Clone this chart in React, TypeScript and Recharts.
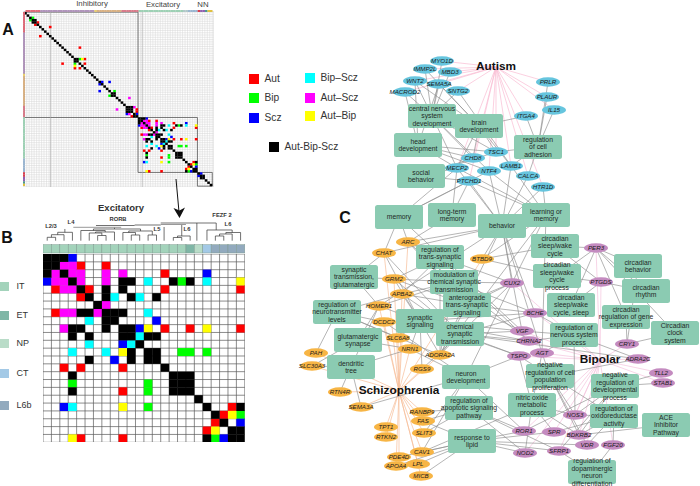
import React from 'react'
import { ScatterChart, Scatter, XAxis, YAxis, CartesianGrid, ReferenceLine, ReferenceArea } from 'recharts'

const FONT = '"Liberation Sans", Arial, sans-serif'

// overlap status per cell
const statusFill: Record<string, string> = {
  k: '#000000', r: '#ff0000', g: '#00ff00', b: '#0000ff', c: '#00ffff', m: '#ff00ff', y: '#ffff00',
}
const statusLegend = [
  { name: 'Aut', key: 'r', x: 254, y: 79 },
  { name: 'Bip', key: 'g', x: 254, y: 98 },
  { name: 'Scz', key: 'b', x: 254, y: 118 },
  { name: 'Bip\u2013Scz', key: 'c', x: 310, y: 78 },
  { name: 'Aut\u2013Scz', key: 'm', x: 310, y: 98 },
  { name: 'Aut\u2013Bip', key: 'y', x: 310, y: 116 },
  { name: 'Aut-Bip-Scz', key: 'k', x: 274, y: 147 },
]

// panel B, excitatory x excitatory
const excitatoryRows = [
  'kkkb....................',
  'kkmmr..r................',
  'kmkmm..m.m....r....b....',
  'bmmkm..m.kk.c..kgk.c...y',
  '.rmmkr.k.k....r........r',
  '....rk.kc.kc.k..........',
  '......km................',
  '.rmmkkmkkk..c...........',
  '.....c.kk....b..........',
  '..mkk..k.kkby.r..r.y...r',
  '...k.k...kkckk..........',
  '.....c...bck............',
  '...c...c.yk.kk..gg.g....',
  '.....k..b.k.kk..........',
  '..r.r....r....k.........',
  '...k...........kkk......',
  '...g........g..kkk......',
  '...k.....r..g..kkk......',
  '..................k.....',
  '..bc.....y..g......k..rk',
  '....................kryg',
  '....................rk.b',
  '...................ry.kk',
  '...yr....r.........kgbkk',
]
const excitatoryClasses = ['IT','IT','IT','IT','IT','IT','IT','IT','IT','IT','IT','IT','IT','IT','IT','IT','IT','ET','NP','CT','L6b','L6b','L6b','L6b']
const classLegend = [
  { name: 'IT', color: '#a3d3bb', y: 286 },
  { name: 'ET', color: '#7fb6a6', y: 315 },
  { name: 'NP', color: '#b9dcc8', y: 343 },
  { name: 'CT', color: '#a3c9e6', y: 373 },
  { name: 'L6b', color: '#92aabe', y: 405 },
]

// panel A, everything outside the excitatory block
const diagonalCells = [0,1,2,3,4,5,6,7,8,9,10,11,12,13,14,15,16,17,18,19,20,21,22,23,24,25,26,27,28,29,30,31,32,33,34,35,36,37,38,39,40,41,42,43,44,45,70,71,72,73,74,75]
const wholeCellsA: [number, number, string][] = [
  [2,3,'g'],[3,2,'g'],[4,5,'r'],[5,4,'r'],[3,4,'k'],[4,3,'k'],[10,6,'r'],[6,10,'r'],
  [22,15,'r'],[15,22,'r'],[20,21,'k'],[21,20,'k'],[24,20,'r'],[20,24,'r'],[22,24,'r'],[24,22,'r'],[22,20,'g'],[20,22,'g'],[20,23,'y'],[23,20,'y'],
  [31,30,'b'],[30,31,'b'],[34,30,'b'],[30,34,'b'],[36,34,'g'],[34,36,'g'],[35,36,'k'],[36,35,'k'],[42,37,'m'],[37,42,'m'],
  [41,42,'k'],[42,41,'k'],[41,43,'k'],[43,41,'k'],[42,43,'k'],[43,42,'k'],[44,41,'m'],[41,44,'b'],[42,44,'m'],[44,44,'y'],[45,43,'r'],[43,45,'r'],[44,45,'k'],[45,44,'b'],[45,42,'r'],
  [71,70,'b'],[70,71,'b'],[71,72,'k'],[72,71,'k'],
]
const stripRunsTop: [string, number][] = [['#e06a78',6],['#b094bb',22],['#e8d070',1],['#d9b183',10],['#d87b8a',7],['#9dd0b4',18],['#b0c8c8',2],['#9ab5d0',4],['#d84050',1],['#9060b0',2],['#4a9a90',1],['#e0c040',2]]
const stripRunsLeft: [string, number][] = [['#e06a78',9],['#b094bb',18],['#e8d070',1],['#d9b183',13],['#d87b8a',5],['#9dd0b4',18],['#9ab5d0',6],['#d84050',2],['#9060b0',2],['#4a9a90',1],['#e0c040',1]]

// panel B dendrogram: [left, right, top, leftBottom, rightBottom]
const dendroMerges = [
  [0.5,1.5,39.3,42.7,42.7],[1,2.5,36.7,39.3,42.7],[1.75,3.5,34.3,36.7,42.7],
  [6.5,7.5,37.5,42.7,42.7],[5.5,7,35,42.7,37.5],[6.25,8.5,34,35,42.7],[4.5,7.4,32.5,42.7,34],
  [10.5,11.5,37,42.7,42.7],[9.5,11,34.5,42.7,37],[12.5,13.5,37,42.7,42.7],[10.2,13,33,34.5,37],[6,11.6,31,32.5,33],
  [15.5,16.5,39.5,42.7,42.7],[16,17.5,38,39.5,42.7],
  [20.5,21.5,38,42.7,42.7],[21,22.5,36,38,42.7],[21.75,23.5,34.5,36,42.7],
]
const dendroLines = [
  [2.6,34.3,2.6,31],[14.4,29,14.4,42.7],[16.5,27,16.5,38],[18.3,25,18.3,42.7],
  [19.5,32,19.5,42.7],[19.5,32,22.5,32],[22.5,32,22.5,34.5],[20.6,25,20.6,32],
  [6.3,27.5,10.9,27.5],[10.9,27,14,27],[14,25,20.6,25],[8.5,29.3,8.5,31],
]
const dendroGrey = [[3.6,29.3,9.3,29.3],[14,26.5,17,26.5]]
const dendroLabels = [
  { text: 'L2/3', x: 51, y: 227 }, { text: 'L4', x: 71, y: 223 }, { text: 'RORB', x: 118, y: 220 },
  { text: 'L5', x: 157, y: 230 }, { text: 'L6', x: 187, y: 230 }, { text: 'FEZF 2', x: 222, y: 216 }, { text: 'L6', x: 228, y: 225 },
]

// panel C network
const terms = [
  { id: 'cns', lines: ['central nervous', 'system', 'development'], x: 432, y: 116 },
  { id: 'brain', lines: ['brain', 'development'], x: 479, y: 126 },
  { id: 'head', lines: ['head', 'development'], x: 418, y: 145 },
  { id: 'adhesion', lines: ['regulation', 'of cell', 'adhesion'], x: 538, y: 147 },
  { id: 'social', lines: ['social', 'behavior'], x: 421, y: 176 },
  { id: 'memory', lines: ['memory'], x: 399, y: 217 },
  { id: 'ltm', lines: ['long-term', 'memory'], x: 452, y: 215 },
  { id: 'behavior', lines: ['behavior'], x: 502, y: 226 },
  { id: 'learning', lines: ['learning or', 'memory'], x: 546, y: 215 },
  { id: 'transSyn', lines: ['regulation of', 'trans-synaptic', 'signaling'], x: 440, y: 257 },
  { id: 'circSleep', lines: ['circadian', 'sleep/wake', 'cycle'], x: 555, y: 246 },
  { id: 'circBeh', lines: ['circadian', 'behavior'], x: 638, y: 266 },
  { id: 'glutTrans', lines: ['synaptic', 'transmission,', 'glutamatergic'], x: 354, y: 277 },
  { id: 'modChem', lines: ['modulation of', 'chemical synaptic', 'transmission'], x: 454, y: 282 },
  { id: 'circProc', lines: ['circadian', 'sleep/wake', 'cycle', 'process'], x: 557, y: 276 },
  { id: 'circRhythm', lines: ['circadian', 'rhythm'], x: 646, y: 291 },
  { id: 'antero', lines: ['anterograde', 'trans-synaptic', 'signaling'], x: 467, y: 305 },
  { id: 'circCycle', lines: ['circadian', 'sleep/wake', 'cycle, sleep'], x: 571, y: 305 },
  { id: 'circGene', lines: ['circadian', 'regulation of gene', 'expression'], x: 626, y: 317 },
  { id: 'neuroT', lines: ['regulation of', 'neurotransmitter', 'levels'], x: 337, y: 312 },
  { id: 'synSig', lines: ['synaptic', 'signaling'], x: 420, y: 321 },
  { id: 'chemSyn', lines: ['chemical', 'synaptic', 'transmission'], x: 460, y: 334 },
  { id: 'nervous', lines: ['regulation of', 'nervous system', 'process'], x: 574, y: 335 },
  { id: 'clock', lines: ['Circadian', 'clock', 'system'], x: 675, y: 333 },
  { id: 'glutSyn', lines: ['glutamatergic', 'synapse'], x: 358, y: 340 },
  { id: 'dendritic', lines: ['dendritic', 'tree'], x: 351, y: 367 },
  { id: 'neuronDev', lines: ['neuron', 'development'], x: 466, y: 377 },
  { id: 'negProlif', lines: ['negative', 'regulation of cell', 'population', 'proliferation'], x: 550, y: 376 },
  { id: 'negDev', lines: ['negative', 'regulation of', 'developmental', 'process'], x: 615, y: 386 },
  { id: 'nitric', lines: ['nitric oxide', 'metabolic', 'process'], x: 532, y: 405 },
  { id: 'oxido', lines: ['regulation of', 'oxidoreductase', 'activity'], x: 614, y: 416 },
  { id: 'ace', lines: ['ACE', 'Inhibitor', 'Pathway'], x: 666, y: 425 },
  { id: 'apoptotic', lines: ['regulation of', 'apoptotic signaling', 'pathway'], x: 469, y: 408 },
  { id: 'lipid', lines: ['response to', 'lipid'], x: 472, y: 441 },
  { id: 'dopa', lines: ['regulation of', 'dopaminergic', 'neuron', 'differentiation'], x: 592, y: 472 },
]
const autismGenes = [
  { name: 'MYO1D', x: 442, y: 61 }, { name: 'IMMP2L', x: 425, y: 69 }, { name: 'MBD3', x: 450, y: 72 },
  { name: 'WNT2', x: 415, y: 81 }, { name: 'SEMA5A', x: 439, y: 84 }, { name: 'MACROD2', x: 405, y: 92 },
  { name: 'SNTG2', x: 458, y: 91 }, { name: 'PRLR', x: 548, y: 82 }, { name: 'PLAUR', x: 547, y: 97 },
  { name: 'IL15', x: 554, y: 110 }, { name: 'ITGA4', x: 526, y: 116 }, { name: 'TSC1', x: 496, y: 152 },
  { name: 'CHD8', x: 473, y: 158 }, { name: 'MECP2', x: 457, y: 168 }, { name: 'NTF4', x: 489, y: 171 },
  { name: 'LAMB1', x: 511, y: 166 }, { name: 'CALCA', x: 528, y: 176 }, { name: 'HTR1D', x: 543, y: 187 },
  { name: 'PTCHD1', x: 469, y: 181 },
]
const sczGenes = [
  { name: 'ARC', x: 408, y: 242 }, { name: 'CHAT', x: 384, y: 253 }, { name: 'BTBD9', x: 482, y: 259 },
  { name: 'GRM2', x: 394, y: 279 }, { name: 'APBA2', x: 402, y: 294 }, { name: 'HOMER1', x: 379, y: 306 },
  { name: 'DCDC2', x: 384, y: 322 }, { name: 'SLC6A8', x: 398, y: 338 }, { name: 'NRN1', x: 410, y: 349 },
  { name: 'ADORA2A', x: 440, y: 355 }, { name: 'PAH', x: 316, y: 353 }, { name: 'SLC30A3', x: 312, y: 366 },
  { name: 'RGS9', x: 422, y: 369 }, { name: 'RTN4R', x: 340, y: 392 }, { name: 'SEMA3A', x: 361, y: 407 },
  { name: 'RANBP9', x: 422, y: 412 }, { name: 'FAS', x: 423, y: 421 }, { name: 'TPT1', x: 386, y: 427 },
  { name: 'SLIT3', x: 424, y: 433 }, { name: 'RTKN2', x: 386, y: 437 }, { name: 'CAV1', x: 422, y: 452 },
  { name: 'PDE4D', x: 399, y: 457 }, { name: 'APOA4', x: 396, y: 466 }, { name: 'LPL', x: 418, y: 464 },
  { name: 'MICB', x: 421, y: 476 },
]
const bipGenes = [
  { name: 'PER3', x: 596, y: 248 }, { name: 'PTGDS', x: 601, y: 282 }, { name: 'CUX2', x: 512, y: 283 },
  { name: 'BCHE', x: 535, y: 313 }, { name: 'VGF', x: 522, y: 331 }, { name: 'CHRNA2', x: 529, y: 341 },
  { name: 'AGT', x: 542, y: 353 }, { name: 'TSPO', x: 519, y: 356 }, { name: 'CRY1', x: 627, y: 344 },
  { name: 'ADRA2C', x: 638, y: 359 }, { name: 'TLL2', x: 661, y: 373 }, { name: 'STAB1', x: 663, y: 383 },
  { name: 'NOS3', x: 575, y: 415 }, { name: 'ROR1', x: 524, y: 431 }, { name: 'SPR', x: 554, y: 432 },
  { name: 'BDKRB2', x: 579, y: 435 }, { name: 'VDR', x: 587, y: 445 }, { name: 'FGF20', x: 613, y: 445 },
  { name: 'SFRP1', x: 559, y: 451 }, { name: 'NOD2', x: 525, y: 453 },
]
const diseaseHubs = [
  { name: 'Autism', x: 496, y: 67, labelX: 496, edge: '#f9bcd3', genes: autismGenes },
  { name: 'Schizophrenia', x: 399, y: 391, labelX: 399, edge: '#f6bd98', genes: sczGenes },
  { name: 'Bipolar', x: 600, y: 360, labelX: 600, edge: '#f3c3dc', genes: bipGenes },
]
const geneTerms: Record<string, string[]> = {
  MYO1D: ['cns'], IMMP2L: ['cns', 'brain'], MBD3: ['cns'], WNT2: ['cns', 'head', 'brain'], SEMA5A: ['cns', 'brain', 'head'],
  MACROD2: ['cns', 'head'], SNTG2: ['learning', 'cns'], PRLR: ['adhesion'], PLAUR: ['adhesion'], IL15: ['adhesion'],
  ITGA4: ['adhesion', 'brain'], TSC1: ['adhesion', 'cns', 'brain', 'head', 'social'], CHD8: ['cns', 'head', 'brain', 'social'],
  MECP2: ['cns', 'head', 'social', 'brain', 'memory', 'ltm', 'behavior', 'learning'], NTF4: ['behavior', 'learning', 'memory', 'cns', 'head'],
  LAMB1: ['adhesion', 'brain', 'behavior'], CALCA: ['adhesion', 'behavior'], HTR1D: ['learning', 'behavior'],
  PTCHD1: ['social', 'memory', 'behavior', 'learning', 'ltm'],
  ARC: ['memory', 'ltm', 'behavior', 'transSyn', 'modChem', 'antero'], CHAT: ['memory', 'glutTrans', 'synSig', 'chemSyn', 'behavior'],
  BTBD9: ['behavior', 'learning', 'circSleep', 'circProc'], GRM2: ['transSyn', 'glutTrans', 'modChem', 'synSig', 'chemSyn', 'antero'],
  APBA2: ['modChem', 'synSig', 'chemSyn', 'neuroT', 'transSyn', 'antero'], HOMER1: ['glutTrans', 'glutSyn', 'dendritic', 'modChem', 'synSig', 'behavior'],
  DCDC2: ['neuroT', 'neuronDev'], SLC6A8: ['synSig', 'neuroT'], NRN1: ['neuronDev', 'synSig', 'dendritic', 'glutSyn'],
  ADORA2A: ['behavior', 'synSig', 'chemSyn', 'modChem', 'antero', 'transSyn', 'neuroT', 'learning'], PAH: ['neuroT'], SLC30A3: ['dendritic', 'glutSyn'],
  RGS9: ['synSig', 'chemSyn'], RTN4R: ['dendritic'], SEMA3A: ['dendritic', 'neuronDev'], RANBP9: ['apoptotic'], FAS: ['apoptotic', 'lipid'],
  SLIT3: ['apoptotic', 'neuronDev'], CAV1: ['lipid', 'neuronDev', 'nitric'], LPL: ['lipid'], MICB: ['lipid'], APOA4: ['lipid'], PDE4D: ['lipid'],
  PER3: ['circSleep', 'circBeh', 'circRhythm', 'circProc', 'circCycle', 'circGene', 'clock'], PTGDS: ['circSleep', 'circProc', 'circRhythm', 'circCycle'],
  CUX2: ['behavior', 'chemSyn', 'modChem', 'antero', 'synSig', 'transSyn', 'neuronDev', 'learning'],
  BCHE: ['antero', 'chemSyn', 'synSig', 'modChem', 'nervous', 'behavior'], VGF: ['behavior', 'antero', 'synSig', 'chemSyn', 'nervous', 'memory'],
  CHRNA2: ['synSig', 'chemSyn', 'modChem', 'nervous', 'transSyn'], AGT: ['behavior', 'nervous', 'negProlif', 'nitric', 'learning'],
  TSPO: ['chemSyn', 'neuronDev', 'oxido', 'synSig', 'nitric'], CRY1: ['circGene', 'clock', 'circBeh'], ADRA2C: ['nervous', 'negProlif', 'chemSyn'],
  TLL2: ['negDev'], STAB1: ['negDev'], NOS3: ['negProlif', 'nitric', 'oxido', 'negDev', 'nervous'], ROR1: ['neuronDev', 'apoptotic', 'lipid', 'negDev'],
  SPR: ['nitric', 'oxido', 'lipid'], BDKRB2: ['nitric', 'oxido', 'ace', 'negProlif', 'negDev'], VDR: ['oxido', 'lipid', 'negProlif'],
  FGF20: ['dopa', 'oxido'], SFRP1: ['dopa', 'negDev', 'apoptotic', 'lipid'], NOD2: ['apoptotic', 'lipid', 'nitric'],
}

type Cell = { x: number; y: number; key: string }
const statusKeys = ['r', 'g', 'b', 'c', 'm', 'y', 'k']

const rowsToCells = (rows: string[], offset: number): Cell[] => {
  const cells: Cell[] = []
  rows.forEach((row, r) => row.split('').forEach((c, col) => {
    if (c !== '.') cells.push({ x: col + offset + 0.5, y: r + offset + 0.5, key: c })
  }))
  return cells
}
const runsToColors = (runs: [string, number][]) => runs.flatMap(([color, n]) => new Array(n).fill(color) as string[])

const cellsA: Cell[] = [
  ...diagonalCells.map((i) => ({ x: i + 0.5, y: i + 0.5, key: 'k' })),
  ...wholeCellsA.map(([c, r, key]) => ({ x: c + 0.5, y: r + 0.5, key })),
  ...rowsToCells(excitatoryRows, 46),
]
const cellsB = rowsToCells(excitatoryRows, 0)
const ticks = (n: number) => Array.from({ length: n + 1 }, (_, i) => i)

const chartAt = (left: number, top: number): React.CSSProperties => ({ position: 'absolute', left, top })
const noMargin = { top: 0, right: 0, bottom: 0, left: 0 }

function rectShape(w: number, h: number) {
  return (p: any) => <rect x={p.cx - w / 2} y={p.cy - h / 2} width={w} height={h} fill={p.payload.fill ?? statusFill[p.payload.key]} stroke={p.payload.stroke} strokeWidth={p.payload.stroke ? 0.5 : 0} />
}

function MatrixChart({ left, top, width, height, n, pad, cells, gridStroke, gridWidth, children }: any) {
  const cw = width / (n + 2 * pad)
  const ch = height / (n + 2 * pad)
  const shape = rectShape(cw + 0.15, ch + 0.15)
  return (
    <ScatterChart width={width} height={height} margin={noMargin} style={chartAt(left, top)}>
      <XAxis type="number" dataKey="x" domain={[-pad, n + pad]} ticks={ticks(n)} interval={0} hide allowDataOverflow />
      <YAxis type="number" dataKey="y" domain={[-pad, n + pad]} ticks={ticks(n)} interval={0} reversed hide allowDataOverflow />
      <CartesianGrid stroke={gridStroke} strokeWidth={gridWidth} />
      {children}
      {statusKeys.map((k) => (
        <Scatter key={k} data={cells.filter((c: Cell) => c.key === k)} isAnimationActive={false} shape={shape} />
      ))}
    </ScatterChart>
  )
}

function StripChart({ left, top, width, height, colors, vertical }: any) {
  const data = colors.map((fill: string, i: number) => (vertical ? { x: 0.5, y: i + 0.5, fill } : { x: i + 0.5, y: 0.5, fill }))
  const n = colors.length
  const w = vertical ? width : width / n
  const h = vertical ? height / n : height
  return (
    <ScatterChart width={width} height={height} margin={noMargin} style={chartAt(left, top)}>
      <XAxis type="number" dataKey="x" domain={vertical ? [0, 1] : [0, n]} hide />
      <YAxis type="number" dataKey="y" domain={vertical ? [0, n] : [0, 1]} reversed hide />
      <Scatter data={data} isAnimationActive={false} shape={rectShape(w + 0.1, h + 0.1)} />
    </ScatterChart>
  )
}

function DendroChart() {
  const classColor: Record<string, string> = Object.fromEntries(classLegend.map((c) => [c.name, c.color]))
  const strip = excitatoryClasses.map((c, i) => ({ x: i + 0.5, y: 50.85, fill: classColor[c], stroke: '#7f9a90' }))
  const seg = (s: number[], i: number, stroke: string, w: number) => (
    <ReferenceLine key={stroke + i} ifOverflow="visible" stroke={stroke} strokeWidth={w} segment={[{ x: s[0], y: s[1] }, { x: s[2], y: s[3] }]} />
  )
  const mergeSegs = dendroMerges.flatMap(([l, r, t, lb, rb]) => [[l, t, r, t], [l, t, l, lb], [r, t, r, rb]])
  return (
    <ScatterChart width={201.8} height={56} margin={noMargin} style={chartAt(43.3, 198)}>
      <XAxis type="number" dataKey="x" domain={[0, 24]} hide />
      <YAxis type="number" dataKey="y" domain={[0, 56]} reversed hide />
      {[...mergeSegs, ...dendroLines].map((s, i) => seg(s, i, '#333333', 0.7))}
      {dendroGrey.map((s, i) => seg(s, i, '#999999', 1))}
      <Scatter data={strip} isAnimationActive={false} shape={rectShape(8.41, 8.3)} />
    </ScatterChart>
  )
}

const geneShape = (fill: string) => (p: any) => (
  <g>
    <ellipse cx={p.cx} cy={p.cy} rx={12} ry={4.7} fill={fill} />
    <text x={p.cx} y={p.cy + 2.2} textAnchor="middle" fontSize={6.2} fontStyle="italic" fill="#1a1a1a" fontFamily={FONT}>{p.payload.name}</text>
  </g>
)
const termShape = (p: any) => {
  const lines: string[] = p.payload.lines
  const first = p.cy - ((lines.length - 1) * 7.8) / 2 + 2.4
  return (
    <g>
      <rect x={p.cx - 24} y={p.cy - 12} width={48} height={24} rx={2.5} fill="#8bcbb2" />
      <text textAnchor="middle" fontSize={6.8} fill="#1f2a26" fontFamily={FONT}>
        {lines.map((l, i) => <tspan key={i} x={p.cx} y={first + i * 7.8}>{l}</tspan>)}
      </text>
    </g>
  )
}

function NetworkChart() {
  const pos: Record<string, { x: number; y: number }> = {}
  terms.forEach((t) => { pos[t.id] = t })
  const allGenes = [...autismGenes, ...sczGenes, ...bipGenes]
  return (
    <>
      <ScatterChart width={700} height={486} margin={noMargin} style={chartAt(0, 0)}>
        <XAxis type="number" dataKey="x" domain={[0, 700]} hide />
        <YAxis type="number" dataKey="y" domain={[0, 486]} reversed hide />
        <Scatter data={allGenes} isAnimationActive={false} shape={() => <g />} />
        {diseaseHubs.flatMap((h) => h.genes.map((g) => (
          <ReferenceLine key={h.name + g.name} ifOverflow="visible" stroke={h.edge} strokeWidth={0.7} segment={[{ x: h.x, y: h.y }, { x: g.x, y: g.y }]} />
        )))}
        {allGenes.flatMap((g) => (geneTerms[g.name] ?? []).map((t) => (
          <ReferenceLine key={g.name + t} ifOverflow="visible" stroke="#8d8d8d" strokeWidth={0.65} segment={[{ x: g.x, y: g.y }, { x: pos[t].x, y: pos[t].y }]} />
        )))}
      </ScatterChart>
      <ScatterChart width={700} height={486} margin={noMargin} style={chartAt(0, 0)}>
        <XAxis type="number" dataKey="x" domain={[0, 700]} hide />
        <YAxis type="number" dataKey="y" domain={[0, 486]} reversed hide />
        <Scatter data={terms} isAnimationActive={false} shape={termShape} />
        <Scatter data={autismGenes} isAnimationActive={false} shape={geneShape('#66c5de')} />
        <Scatter data={sczGenes} isAnimationActive={false} shape={geneShape('#f7b545')} />
        <Scatter data={bipGenes} isAnimationActive={false} shape={geneShape('#c48bc0')} />
      </ScatterChart>
    </>
  )
}

const Txt = ({ x, y, size, weight, color, anchor, children }: any) => (
  <div style={{
    position: 'absolute', left: x, top: y, fontFamily: FONT, fontSize: size, fontWeight: weight ?? 400, color: color ?? '#333',
    lineHeight: 1, whiteSpace: 'nowrap', transform: `translate(${anchor === 'start' ? '0' : '-50%'}, -50%)`,
  }}>{children}</div>
)
const Swatch = ({ x, y, w, h, color }: any) => (
  <div style={{ position: 'absolute', left: x - w / 2, top: y - h / 2, width: w, height: h, background: color }} />
)

export default function App() {
  return (
    <div style={{ position: 'absolute', left: 0, top: 0, width: 700, height: 486, background: '#fff', overflow: 'hidden' }}>
      {/* panel A */}
      <MatrixChart left={23.3} top={10.9} width={190.5} height={176.3} n={76} pad={0.5} cells={cellsA} gridStroke="#d6d6d6" gridWidth={0.5}>
        <ReferenceLine x={10.6} stroke="#aaaaaa" strokeWidth={0.6} />
        <ReferenceLine x={47.7} stroke="#aaaaaa" strokeWidth={0.6} />
        <ReferenceArea x1={0} x2={46} y1={0} y2={46} fill="none" stroke="#555" strokeWidth={0.8} ifOverflow="visible" />
        <ReferenceArea x1={46} x2={70} y1={46} y2={70} fill="none" stroke="#555" strokeWidth={0.8} ifOverflow="visible" />
        <ReferenceArea x1={70} x2={76} y1={70} y2={76} fill="none" stroke="#555" strokeWidth={0.8} ifOverflow="visible" />
      </MatrixChart>
      <StripChart left={24.5} top={9.8} width={188} height={2.2} colors={runsToColors(stripRunsTop)} />
      <StripChart left={22.8} top={12} width={2} height={174} colors={runsToColors(stripRunsLeft)} vertical />
      <Txt x={92} y={4} size={7.8} color="#444">Inhibitory</Txt>
      <Txt x={163} y={5} size={7.8} color="#444">Excitatory</Txt>
      <Txt x={203} y={5} size={7.8} color="#444">NN</Txt>
      <Txt x={8} y={30} size={16} weight={700} color="#111">A</Txt>

      {/* legend */}
      {statusLegend.map((s) => (
        <React.Fragment key={s.name}>
          <Swatch x={s.x} y={s.y} w={10.5} h={10} color={statusFill[s.key]} />
          <Txt x={s.x + 10.5} y={s.y} size={10.2} anchor="start">{s.name}</Txt>
        </React.Fragment>
      ))}

      {/* arrow from A to B */}
      <svg width={700} height={486} style={chartAt(0, 0)}>
        <line x1={176} y1={179} x2={179} y2={212} stroke="#111" strokeWidth={1} />
        <path d="M173.5 208 L179.5 218 L185 207.5 L179.5 210.5 Z" fill="#111" />
      </svg>

      {/* panel B */}
      <Txt x={121} y={208} size={9.5} weight={700}>Excitatory</Txt>
      <Txt x={7} y={238} size={16} weight={700} color="#111">B</Txt>
      <DendroChart />
      {dendroLabels.map((l, i) => <Txt key={i} x={l.x} y={l.y} size={5.8} weight={700}>{l.text}</Txt>)}
      <MatrixChart left={43.3} top={254} width={201.8} height={188.3} n={24} pad={0} cells={cellsB} gridStroke="#5a5a5a" gridWidth={0.7} />
      {classLegend.map((c) => (
        <React.Fragment key={c.name}>
          <Swatch x={4.7} y={c.y} w={9.5} h={9} color={c.color} />
          <Txt x={16.5} y={c.y} size={9} anchor="start">{c.name}</Txt>
        </React.Fragment>
      ))}

      {/* panel C */}
      <NetworkChart />
      <Txt x={345} y={218} size={16} weight={700} color="#111">C</Txt>
      {diseaseHubs.map((h) => (
        <Txt key={h.name} x={h.labelX} y={h.y} size={11.8} weight={700} color="#111">{h.name}</Txt>
      ))}
    </div>
  )
}
